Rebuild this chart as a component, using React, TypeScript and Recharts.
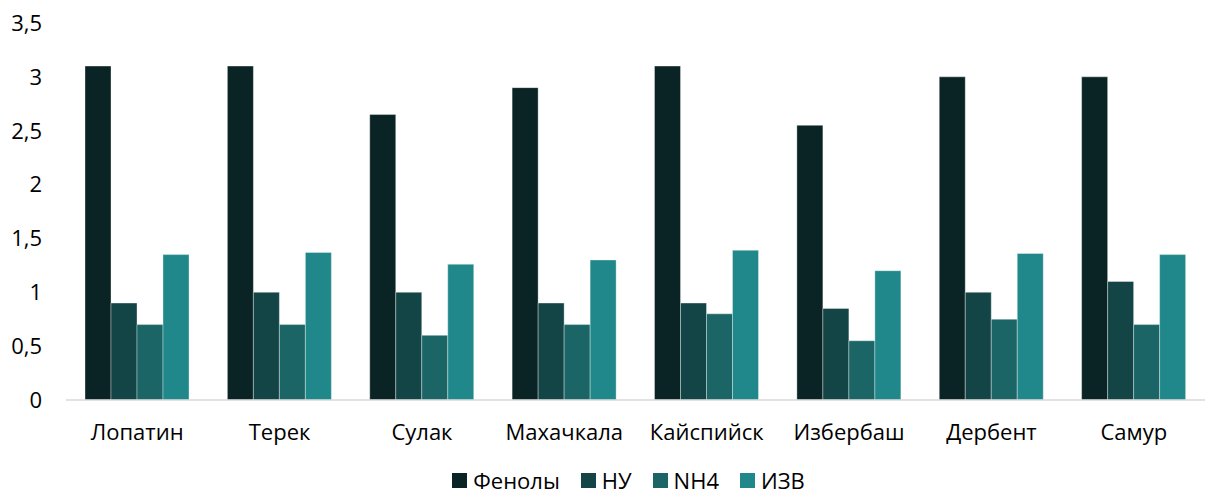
import React from 'react';
import { BarChart, Bar, XAxis, YAxis, Legend } from 'recharts';

const categories = ['Лопатин', 'Терек', 'Сулак', 'Махачкала', 'Кайспийск', 'Избербаш', 'Дербент', 'Самур'];
const phenols = [3.1, 3.1, 2.65, 2.9, 3.1, 2.55, 3.0, 3.0];
const nu = [0.9, 1.0, 1.0, 0.9, 0.9, 0.85, 1.0, 1.1];
const nh4 = [0.7, 0.7, 0.6, 0.7, 0.8, 0.55, 0.75, 0.7];
const izv = [1.35, 1.37, 1.26, 1.3, 1.39, 1.2, 1.36, 1.35];
const yTicks = [0, 0.5, 1, 1.5, 2, 2.5, 3, 3.5];
const seriesNames = ['Фенолы', 'НУ', 'NH4', 'ИЗВ'];
const seriesColors = ['#0a2324', '#134446', '#1b6566', '#20888a'];

const data = categories.map((name, i) => ({
  name,
  'Фенолы': phenols[i],
  'НУ': nu[i],
  'NH4': nh4[i],
  'ИЗВ': izv[i],
}));

const font = 'Open Sans, sans-serif';
const fmt = (v: number) => String(v).replace('.', ',');

const LegendContent = () => (
  <div style={{ display: 'flex', justifyContent: 'center', alignItems: 'center', fontFamily: font, fontSize: 22, color: '#000', lineHeight: '22px', height: 22, paddingLeft: 52 }}>
    {seriesNames.map((n, i) => (
      <div key={n} style={{ display: 'flex', alignItems: 'center', marginRight: i < seriesNames.length - 1 ? 21 : 0 }}>
        <span style={{ display: 'inline-block', width: 15, height: 15, background: seriesColors[i], marginRight: 6 }} />
        <span>{n}</span>
      </div>
    ))}
  </div>
);

export default function App() {
  return (
    <div style={{ position: 'absolute', left: 0, top: 0, width: 1213, height: 495, background: '#fff', fontFamily: font }}>
      <BarChart width={1213} height={495} data={data} margin={{ top: 23, right: 8, left: 0, bottom: 0 }} barGap={0} barCategoryGap={19}>
        <XAxis dataKey="name" axisLine={{ stroke: '#d9d9d9', strokeWidth: 1.5 }} tickLine={false} height={70} tickMargin={18}
          tick={{ fill: '#000', fontSize: 22, fontFamily: font }} interval={0} />
        <YAxis width={66} domain={[0, 3.5]} ticks={yTicks} axisLine={false} tickLine={false} tickSize={0} tickMargin={24}
          tickFormatter={fmt} tick={{ fill: '#000', fontSize: 22, fontFamily: font }} />
        <Legend verticalAlign="bottom" align="center" height={25}
          wrapperStyle={{ bottom: 1 }} content={<LegendContent />} />
        {seriesNames.map((n, i) => (
          <Bar key={n} dataKey={n} fill={seriesColors[i]} stroke="rgba(255,255,255,0.35)" isAnimationActive={false} />
        ))}
      </BarChart>
    </div>
  );
}
